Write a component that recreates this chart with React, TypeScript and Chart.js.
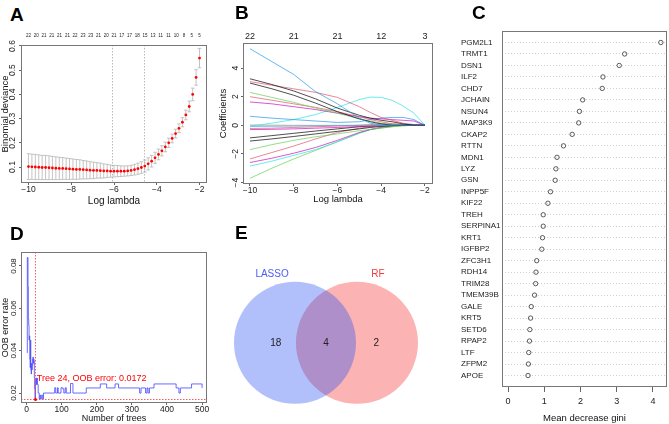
import React, { useEffect, useRef } from "react";
import { Chart, registerables } from "chart.js";

Chart.register(...registerables);

const FONT = '"Liberation Sans", Arial, Helvetica, sans-serif';
Chart.defaults.font.family = FONT;

// ---------------- Panel A : cv.glmnet binomial deviance ----------------
const A_LOG_LAMBDA = [
  -10.0, -9.84, -9.68, -9.52, -9.36, -9.2, -9.04, -8.88, -8.72, -8.56, -8.4, -8.24, -8.08,
  -7.92, -7.76, -7.6, -7.44, -7.28, -7.12, -6.96, -6.8, -6.64, -6.48, -6.32, -6.16, -6.0,
  -5.84, -5.68, -5.52, -5.36, -5.2, -5.04, -4.88, -4.72, -4.56, -4.4, -4.24, -4.08, -3.92,
  -3.76, -3.6, -3.44, -3.28, -3.12, -2.96, -2.8, -2.64, -2.48, -2.32, -2.16, -2.0,
];
const A_DEVIANCE = [
  0.102, 0.101, 0.1, 0.099, 0.098, 0.098, 0.097, 0.096, 0.095, 0.094, 0.094, 0.093, 0.092,
  0.091, 0.09, 0.09, 0.089, 0.088, 0.087, 0.086, 0.086, 0.085, 0.084, 0.084, 0.083, 0.083,
  0.083, 0.083, 0.083, 0.084, 0.086, 0.089, 0.093, 0.098, 0.104, 0.113, 0.124, 0.138, 0.152,
  0.167, 0.183, 0.2, 0.218, 0.238, 0.26, 0.285, 0.315, 0.35, 0.4, 0.47, 0.55,
];
const A_DEV_SD = [
  0.053, 0.052, 0.052, 0.051, 0.05, 0.05, 0.049, 0.048, 0.047, 0.046, 0.045, 0.044, 0.043,
  0.042, 0.041, 0.04, 0.038, 0.037, 0.035, 0.034, 0.032, 0.031, 0.029, 0.027, 0.025, 0.024,
  0.023, 0.022, 0.021, 0.021, 0.021, 0.022, 0.023, 0.024, 0.025, 0.025, 0.024, 0.023, 0.022,
  0.021, 0.02, 0.019, 0.018, 0.018, 0.018, 0.019, 0.02, 0.022, 0.026, 0.032, 0.04,
];
const A_NZERO_AT = [
  -10.0, -9.64, -9.27, -8.91, -8.55, -8.18, -7.82, -7.45, -7.09, -6.73, -6.36, -6.0, -5.64,
  -5.27, -4.91, -4.55, -4.18, -3.82, -3.45, -3.09, -2.73, -2.36, -2.0,
];
const A_NZERO = [
  "22", "20", "21", "21", "21", "21", "22", "23", "23", "21", "20", "21", "17", "17", "18",
  "15", "13", "11", "11", "10", "8", "5", "5",
];
const A_LAMBDA_MIN = -6.1;
const A_LAMBDA_1SE = -4.6;
const A_X_TICKS = [-10, -8, -6, -4, -2];
const A_Y_TICKS = [0.1, 0.2, 0.3, 0.4, 0.5, 0.6];

// ---------------- Panel B : coefficient paths ----------------
const B_LOG_LAMBDA = [-10, -9, -8, -7, -6, -5, -4.5, -4, -3.5, -3, -2.5, -2];
const B_PATH_01 = [5.35, 4.45, 3.55, 2.35, 1.5, 0.5, 0.15, 0.02, 0, 0, 0, 0];
const B_PATH_02 = [3.25, 2.85, 2.4, 1.85, 1.2, 0.7, 0.5, 0.35, 0.25, 0.1, 0, 0];
const B_PATH_03 = [2.95, 2.55, 2.1, 1.55, 0.95, 0.45, 0.25, 0.1, 0, 0, 0, 0];
const B_PATH_04 = [3.05, 2.8, 2.55, 2.3, 1.95, 1.3, 0.9, 0.55, 0.35, 0.15, 0.05, 0];
const B_PATH_05 = [2.3, 1.95, 1.6, 1.2, 0.85, 0.45, 0.3, 0.15, 0.05, 0, 0, 0];
const B_PATH_06 = [2.0, 1.75, 1.5, 1.25, 0.95, 0.6, 0.4, 0.25, 0.1, 0.05, 0, 0];
const B_PATH_07 = [1.63, 1.5, 1.3, 1.1, 0.85, 0.6, 0.5, 0.45, 0.4, 0.35, 0.3, 0];
const B_PATH_08 = [0.63, 0.5, 0.4, 0.3, 0.2, 0.25, 0.4, 0.5, 0.55, 0.55, 0.4, 0];
const B_PATH_09 = [-0.05, 0.15, 0.4, 0.75, 1.25, 1.8, 1.97, 1.95, 1.75, 1.35, 0.85, 0];
const B_PATH_10 = [0.02, 0.01, 0, 0, 0, 0, 0, 0, 0, 0, 0, 0];
const B_PATH_11 = [-0.07, -0.06, -0.05, -0.03, -0.02, 0, 0, 0, 0, 0, 0, 0];
const B_PATH_12 = [-0.22, -0.2, -0.15, -0.1, -0.05, 0, 0.05, 0.1, 0.1, 0.05, 0, 0];
const B_PATH_13 = [-0.3, -0.28, -0.25, -0.2, -0.15, -0.08, -0.05, -0.02, 0, 0, 0, 0];
const B_PATH_14 = [-0.88, -0.72, -0.56, -0.4, -0.25, -0.1, -0.05, 0, 0, 0, 0, 0];
const B_PATH_15 = [-1.1, -0.95, -0.78, -0.6, -0.42, -0.25, -0.15, -0.08, -0.02, 0, 0, 0];
const B_PATH_16 = [-1.7, -1.35, -1.05, -0.8, -0.6, -0.38, -0.28, -0.18, -0.1, -0.03, 0, 0];
const B_PATH_17 = [-2.35, -1.9, -1.45, -0.95, -0.5, -0.2, -0.1, -0.05, 0, 0, 0, 0];
const B_PATH_18 = [-2.6, -2.3, -1.95, -1.55, -1.05, -0.5, -0.3, -0.15, -0.05, 0, 0, 0];
const B_PATH_19 = [-2.85, -2.5, -2.1, -1.7, -1.15, -0.55, -0.3, -0.15, -0.05, 0, 0, 0];
const B_PATH_20 = [-3.7, -3.0, -2.35, -1.75, -1.15, -0.55, -0.3, -0.2, -0.1, -0.03, 0, 0];
const B_PATHS = [
  B_PATH_01, B_PATH_02, B_PATH_03, B_PATH_04, B_PATH_05, B_PATH_06, B_PATH_07, B_PATH_08,
  B_PATH_09, B_PATH_10, B_PATH_11, B_PATH_12, B_PATH_13, B_PATH_14, B_PATH_15, B_PATH_16,
  B_PATH_17, B_PATH_18, B_PATH_19, B_PATH_20,
];
const B_COLORS = [
  "#2297E6", "#000000", "#000000", "#DF536B", "#61D04F", "#DF536B", "#CD0BBC", "#2297E6",
  "#28E2E5", "#9E9E9E", "#2297E6", "#DF536B", "#CD0BBC", "#000000", "#000000", "#61D04F",
  "#DF536B", "#CD0BBC", "#28E2E5", "#61D04F",
];
const B_X_TICKS = [-10, -8, -6, -4, -2];
const B_DF = ["22", "21", "21", "12", "3"];
const B_Y_TICKS = [-4, -2, 0, 2, 4];

// ---------------- Panel C : random forest importance ----------------
const C_GENES = [
  "PGM2L1", "TRMT1", "DSN1", "ILF2", "CHD7", "JCHAIN", "NSUN4", "MAP3K9", "CKAP2", "RTTN",
  "MDN1", "LYZ", "GSN", "INPP5F", "KIF22", "TREH", "SERPINA1", "KRT1", "IGFBP2", "ZFC3H1",
  "RDH14", "TRIM28", "TMEM39B", "GALE", "KRT5", "SETD6", "RPAP2", "LTF", "ZFPM2", "APOE",
];
const C_GINI = [
  4.22, 3.22, 3.07, 2.62, 2.6, 2.06, 1.97, 1.95, 1.77, 1.53, 1.35, 1.32, 1.3, 1.17, 1.1,
  0.97, 0.97, 0.95, 0.93, 0.79, 0.77, 0.76, 0.73, 0.64, 0.62, 0.6, 0.59, 0.57, 0.56, 0.55,
];
const C_X_TICKS = [0, 1, 2, 3, 4];

// ---------------- Panel D : OOB error ----------------
const D_TREES = [
  1, 2, 4, 5, 6, 7, 8, 9, 10, 11, 12, 13, 14, 15, 16, 17, 18, 19, 20, 21, 22, 23, 24, 25, 26,
  28, 29, 31, 33, 36, 38, 40, 43, 46, 48, 80, 83, 88, 90, 98, 103, 106, 110, 113, 125, 132,
  170, 210, 228, 252, 262, 322, 326, 339, 343, 346, 350, 363, 426, 434, 438, 470, 500,
];
const D_OOB = [
  0.039, 0.084, 0.07, 0.055, 0.052, 0.045, 0.047, 0.036, 0.032, 0.045, 0.031, 0.029, 0.034,
  0.031, 0.033, 0.036, 0.037, 0.034, 0.036, 0.035, 0.027, 0.022, 0.0172, 0.025, 0.027, 0.024,
  0.027, 0.024, 0.02, 0.0172, 0.019, 0.0172, 0.019, 0.0172, 0.02, 0.0225, 0.02, 0.0225, 0.02,
  0.0225, 0.022, 0.02, 0.0225, 0.02, 0.0245, 0.02, 0.0224, 0.0243, 0.0224, 0.0243, 0.0224,
  0.02, 0.0224, 0.02, 0.0224, 0.02, 0.0224, 0.0243, 0.0224, 0.02, 0.0224, 0.0243, 0.0224,
];
const D_BEST_TREE = 24;
const D_BEST_ERR = 0.0172;
const D_X_TICKS = [0, 100, 200, 300, 400, 500];
const D_Y_TICKS = [0.02, 0.04, 0.06, 0.08];

// ---------------- Panel E : Venn ----------------
const E_SETS = ["LASSO", "RF"];
const E_SET_COLORS = ["#4b5cf0", "#f03c3c"];
const E_FILLS = ["rgba(40,80,240,0.36)", "rgba(245,55,55,0.38)"];
const E_CENTER_X = [-0.5, 0.5];
const E_CENTER_Y = [0, 0];
const E_NAME_X = [-0.87, 0.84];
const E_NAME_Y = [1.11, 1.11];
const E_COUNTS = ["18", "4", "2"];
const E_COUNT_X = [-0.81, 0, 0.81];
const E_COUNT_Y = [0, 0, 0];

// ---------------- helpers ----------------
const fmt = (v: number) => (v < 0 ? "\u2212" + String(Math.abs(v)) : String(v));

const boxPlugin = {
  id: "rbox",
  afterDraw(chart: any) {
    const { ctx, chartArea: a } = chart;
    ctx.save();
    ctx.strokeStyle = "#777";
    ctx.lineWidth = 1;
    ctx.strokeRect(
      Math.round(a.left) + 0.5,
      Math.round(a.top) + 0.5,
      Math.round(a.right - a.left) - 1,
      Math.round(a.bottom - a.top) - 1
    );
    ctx.restore();
  },
};

function xAxis(o: any) {
  return {
    type: "linear",
    position: o.position,
    min: o.min,
    max: o.max,
    afterBuildTicks: (s: any) => {
      s.ticks = o.ticks.map((value: number) => ({ value }));
    },
    afterFit: (s: any) => {
      s.height = o.height;
    },
    grid: {
      drawOnChartArea: false,
      drawTicks: o.tl > 0,
      tickLength: o.tl,
      color: "#666",
      lineWidth: 1,
    },
    border: { display: false },
    ticks: {
      autoSkip: false,
      maxRotation: 0,
      minRotation: 0,
      padding: o.pad,
      color: "#222",
      font: { family: FONT, size: o.size },
      callback: (v: number, i: number) => (o.labels ? o.labels[i] : fmt(v)),
    },
    title: o.title
      ? {
          display: true,
          text: o.title,
          color: "#111",
          font: { family: FONT, size: o.titleSize },
          padding: { top: 0, bottom: o.titlePad },
        }
      : { display: false },
  };
}

function yAxis(o: any) {
  return {
    type: "linear",
    position: "left",
    min: o.min,
    max: o.max,
    afterBuildTicks: (s: any) => {
      s.ticks = o.ticks.map((value: number) => ({ value }));
    },
    afterFit: (s: any) => {
      s.width = o.width;
    },
    grid: { drawOnChartArea: false, drawTicks: true, tickLength: o.tl, color: "#666", lineWidth: 1 },
    border: { display: false },
    ticks: {
      autoSkip: false,
      minRotation: 90,
      maxRotation: 90,
      crossAlign: "center",
      padding: o.pad,
      color: "#222",
      font: { family: FONT, size: o.size },
      callback: (v: number) => (o.fmt ? o.fmt(v) : fmt(v)),
    },
    title: {
      display: true,
      text: o.title,
      color: "#111",
      font: { family: FONT, size: o.titleSize },
      padding: { top: o.titlePad, bottom: 0 },
    },
  };
}

const baseOptions = (padding: any) => ({
  animation: false,
  responsive: false,
  events: [],
  layout: { padding, autoPadding: false },
  plugins: { legend: { display: false }, tooltip: { enabled: false }, title: { display: false } },
});

// ---------------- configs ----------------
function configA(): any {
  const extras = {
    id: "aExtras",
    beforeDatasetsDraw(chart: any) {
      const { ctx, chartArea: a } = chart;
      const x = chart.scales.x;
      const y = chart.scales.y;
      ctx.save();
      ctx.strokeStyle = "#b5b5b5";
      ctx.lineWidth = 0.8;
      A_LOG_LAMBDA.forEach((lam, i) => {
        const px = x.getPixelForValue(lam);
        const hi = y.getPixelForValue(A_DEVIANCE[i] + A_DEV_SD[i]);
        const lo = y.getPixelForValue(A_DEVIANCE[i] - A_DEV_SD[i]);
        ctx.beginPath();
        ctx.moveTo(px, hi);
        ctx.lineTo(px, lo);
        ctx.moveTo(px - 1.8, hi);
        ctx.lineTo(px + 1.8, hi);
        ctx.moveTo(px - 1.8, lo);
        ctx.lineTo(px + 1.8, lo);
        ctx.stroke();
      });
      ctx.strokeStyle = "#aaa";
      ctx.setLineDash([1.5, 1.5]);
      [A_LAMBDA_MIN, A_LAMBDA_1SE].forEach((v) => {
        const px = Math.round(x.getPixelForValue(v)) + 0.5;
        ctx.beginPath();
        ctx.moveTo(px, a.top);
        ctx.lineTo(px, a.bottom);
        ctx.stroke();
      });
      ctx.restore();
    },
  };
  return {
    type: "scatter",
    data: {
      datasets: [
        {
          data: A_LOG_LAMBDA.map((x, i) => ({ x, y: A_DEVIANCE[i] })),
          pointRadius: 1.4,
          pointBackgroundColor: "#ff0000",
          pointBorderWidth: 0,
        },
      ],
    },
    options: {
      ...baseOptions({ left: 0, right: 8, top: 0, bottom: 0 }),
      scales: {
        x: xAxis({
          position: "bottom", min: -10.35, max: -1.65, ticks: A_X_TICKS, height: 32,
          size: 8.5, tl: 2, pad: 0, title: "Log lambda", titleSize: 10, titlePad: 8,
        }),
        x2: xAxis({
          position: "top", min: -10.35, max: -1.65, ticks: A_NZERO_AT, labels: A_NZERO,
          height: 20, size: 4.5, tl: 0, pad: 7,
        }),
        y: yAxis({
          min: 0.034, max: 0.604, ticks: A_Y_TICKS, width: 21, size: 8.5, tl: 2, pad: 0,
          title: "Binomial deviance", titleSize: 9.5, titlePad: 0, fmt: (v: number) => v.toFixed(1),
        }),
      },
    },
    plugins: [extras, boxPlugin],
  };
}

function configB(): any {
  return {
    type: "scatter",
    data: {
      datasets: B_PATHS.map((path, k) => ({
        data: B_LOG_LAMBDA.map((x, i) => ({ x, y: path[i] })),
        showLine: true,
        borderColor: B_COLORS[k] + "b0",
        borderWidth: 1,
        pointRadius: 0,
      })),
    },
    options: {
      ...baseOptions({ left: 0, right: 7, top: 0, bottom: 0 }),
      scales: {
        x: xAxis({
          position: "bottom", min: -10.32, max: -1.63, ticks: B_X_TICKS, height: 31,
          size: 8.5, tl: 2, pad: 0, title: "Log lambda", titleSize: 9.5, titlePad: 10,
        }),
        x2: xAxis({
          position: "top", min: -10.32, max: -1.63, ticks: B_X_TICKS, labels: B_DF,
          height: 18, size: 9, tl: 0, pad: 1,
        }),
        y: yAxis({
          min: -4.1, max: 5.75, ticks: B_Y_TICKS, width: 28, size: 8.5, tl: 2, pad: 0,
          title: "Coefficients", titleSize: 9.5, titlePad: 3,
        }),
      },
    },
    plugins: [boxPlugin],
  };
}

function configC(): any {
  return {
    type: "scatter",
    data: {
      datasets: [
        {
          data: C_GINI.map((g, i) => ({ x: g, y: i + 1 })),
          pointRadius: 2.2,
          pointBorderWidth: 0.8,
          pointBorderColor: "#333",
          pointBackgroundColor: "rgba(0,0,0,0)",
        },
      ],
    },
    options: {
      ...baseOptions({ left: 21, right: 2, top: 11, bottom: 0 }),
      scales: {
        x: xAxis({
          position: "bottom", min: -0.169, max: 4.39, ticks: C_X_TICKS, height: 37,
          size: 9, tl: 5, pad: 4, title: "Mean decrease gini", titleSize: 9.5, titlePad: 0,
        }),
        y: {
          type: "linear",
          position: "left",
          reverse: true,
          min: 0,
          max: 31,
          afterBuildTicks: (s: any) => {
            s.ticks = C_GENES.map((_, i) => ({ value: i + 1 }));
          },
          afterFit: (s: any) => {
            s.width = 41;
          },
          grid: { drawOnChartArea: true, drawTicks: false, color: "#c4c4c4", lineWidth: 0.8 },
          border: { display: false, dash: [1, 2] },
          ticks: {
            autoSkip: false,
            crossAlign: "far",
            padding: 0,
            color: "#222",
            font: { family: FONT, size: 8 },
            callback: (v: number) => C_GENES[v - 1],
          },
        },
      },
    },
    plugins: [boxPlugin],
  };
}

function configD(): any {
  const extras = {
    id: "dExtras",
    afterDatasetsDraw(chart: any) {
      const { ctx, chartArea: a } = chart;
      const x = chart.scales.x;
      const y = chart.scales.y;
      const px = Math.round(x.getPixelForValue(D_BEST_TREE)) + 0.5;
      const py = Math.round(y.getPixelForValue(D_BEST_ERR)) + 0.5;
      ctx.save();
      ctx.strokeStyle = "#ff3030";
      ctx.lineWidth = 0.8;
      ctx.setLineDash([1.5, 1.5]);
      ctx.beginPath();
      ctx.moveTo(px, a.top);
      ctx.lineTo(px, a.bottom);
      ctx.moveTo(a.left, py);
      ctx.lineTo(a.right, py);
      ctx.stroke();
      ctx.setLineDash([]);
      ctx.fillStyle = "#ff0000";
      ctx.beginPath();
      ctx.arc(px, py, 1.5, 0, Math.PI * 2);
      ctx.fill();
      ctx.font = "9px " + FONT;
      ctx.textAlign = "left";
      ctx.textBaseline = "middle";
      ctx.fillText(
        `Tree ${D_BEST_TREE}, OOB error: ${D_BEST_ERR}`,
        x.getPixelForValue(D_BEST_TREE + 5),
        y.getPixelForValue(D_BEST_ERR + 0.0098)
      );
      ctx.restore();
    },
  };
  return {
    type: "scatter",
    data: {
      datasets: [
        {
          data: D_TREES.map((t, i) => ({ x: t, y: D_OOB[i] })),
          showLine: true,
          stepped: true,
          borderColor: "rgba(70,70,255,0.8)",
          borderWidth: 1,
          pointRadius: 0,
        },
      ],
    },
    options: {
      ...baseOptions({ left: 0, right: 8, top: 17, bottom: 0 }),
      scales: {
        x: xAxis({
          position: "bottom", min: -16, max: 514, ticks: D_X_TICKS, height: 21,
          size: 8.5, tl: 2, pad: 0, title: "Number of trees", titleSize: 9, titlePad: 0,
        }),
        y: yAxis({
          min: 0.0153, max: 0.0866, ticks: D_Y_TICKS, width: 21, size: 8, tl: 2, pad: -3,
          title: "OOB error rate", titleSize: 9, titlePad: 0, fmt: (v: number) => v.toFixed(2),
        }),
      },
    },
    plugins: [extras, boxPlugin],
  };
}

function configE(): any {
  const labels = {
    id: "eLabels",
    afterDatasetsDraw(chart: any) {
      const { ctx } = chart;
      const x = chart.scales.x;
      const y = chart.scales.y;
      ctx.save();
      ctx.textAlign = "center";
      ctx.textBaseline = "middle";
      ctx.font = "10px " + FONT;
      E_SETS.forEach((name, i) => {
        ctx.fillStyle = E_SET_COLORS[i];
        ctx.fillText(name, x.getPixelForValue(E_NAME_X[i]), y.getPixelForValue(E_NAME_Y[i]));
      });
      ctx.fillStyle = "#222";
      E_COUNTS.forEach((c, i) => {
        ctx.fillText(c, x.getPixelForValue(E_COUNT_X[i]), y.getPixelForValue(E_COUNT_Y[i]));
      });
      ctx.restore();
    },
  };
  return {
    type: "bubble",
    data: {
      datasets: E_SETS.map((name, i) => ({
        label: name,
        data: [{ x: E_CENTER_X[i], y: E_CENTER_Y[i], r: 61 }],
        backgroundColor: E_FILLS[i],
        borderWidth: 0,
        clip: false,
      })),
    },
    options: {
      ...baseOptions({ left: 0, right: 0, top: 0, bottom: 0 }),
      scales: {
        x: { type: "linear", display: false, min: -1.71, max: 1.84 },
        y: { type: "linear", display: false, min: -1.31, max: 1.66 },
      },
    },
    plugins: [labels],
  };
}

function ChartCanvas(props: { left: number; top: number; width: number; height: number; make: () => any }) {
  const ref = useRef<HTMLCanvasElement | null>(null);
  useEffect(() => {
    const chart = new Chart(ref.current as HTMLCanvasElement, props.make());
    return () => chart.destroy();
  }, []);
  return (
    <canvas
      ref={ref}
      width={props.width}
      height={props.height}
      style={{ position: "absolute", left: props.left, top: props.top, width: props.width, height: props.height }}
    />
  );
}

function Letter(props: { text: string; left: number; top: number }) {
  return (
    <div
      style={{
        position: "absolute",
        left: props.left,
        top: props.top,
        fontFamily: FONT,
        fontWeight: "bold",
        fontSize: 19,
        lineHeight: "19px",
        color: "#000",
      }}
    >
      {props.text}
    </div>
  );
}

export default function App() {
  return (
    <div
      style={{
        position: "fixed",
        left: 0,
        top: 0,
        width: 669,
        height: 424,
        background: "#fff",
        overflow: "hidden",
      }}
    >
      <ChartCanvas left={0} top={25} width={215} height={190} make={configA} />
      <ChartCanvas left={215} top={25} width={225} height={190} make={configB} />
      <ChartCanvas left={440} top={20} width={229} height={404} make={configC} />
      <ChartCanvas left={0} top={235} width={215} height={189} make={configD} />
      <ChartCanvas left={220} top={240} width={220} height={184} make={configE} />
      <Letter text="A" left={10} top={5} />
      <Letter text="B" left={235} top={3} />
      <Letter text="C" left={472} top={3} />
      <Letter text="D" left={10} top={224} />
      <Letter text="E" left={235} top={223} />
    </div>
  );
}
